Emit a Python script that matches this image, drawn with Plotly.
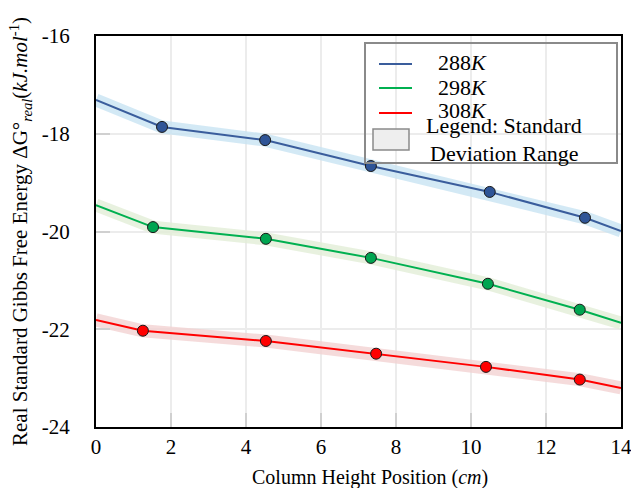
import plotly.graph_objects as go

# Data
x_288 = [0, 1.76, 4.51, 7.33, 10.5, 13.04, 14]
y_288 = [-17.31, -17.86, -18.13, -18.66, -19.19, -19.72, -19.99]
x_298 = [0, 1.52, 4.53, 7.33, 10.45, 12.9, 14]
y_298 = [-19.46, -19.91, -20.15, -20.54, -21.07, -21.60, -21.87]
x_308 = [0, 1.25, 4.53, 7.47, 10.4, 12.9, 14]
y_308 = [-21.81, -22.03, -22.24, -22.50, -22.77, -23.03, -23.20]

x_ticks = [0, 2, 4, 6, 8, 10, 12, 14]
y_ticks = [-24, -22, -20, -18, -16]
y_ticktext = ["-24", "-22", "-20", "-18", "-16"]

series = [
    ("288<i>K</i>", x_288, y_288, "#3a5d9c", "#2f5597", "rgba(200,228,242,0.8)"),
    ("298<i>K</i>", x_298, y_298, "#00b050", "#00a550", "rgba(226,238,215,0.8)"),
    ("308<i>K</i>", x_308, y_308, "#ff0000", "#ff0000", "rgba(243,210,210,0.8)"),
]

FONT = "Liberation Serif"

W, H = 631, 488
L, R, T, B = 96, 10, 36, 61
PX0, PY1 = 96, 36          # plot-area left/top in page pixels
PW, PH = 525, 391           # plot-area size


def px(x):
    return (x - PX0) / PW


def py(y):
    return (PY1 + PH - y) / PH


fig = go.Figure()

# standard deviation bands
for name, xs, ys, lc, mc, bc in series:
    fig.add_trace(go.Scatter(x=xs, y=ys, mode="lines", showlegend=False,
                             line=dict(color=bc, width=13), hoverinfo="skip"))

for name, xs, ys, lc, mc, bc in series:
    fig.add_trace(go.Scatter(x=xs, y=ys, mode="lines", name=name, showlegend=False,
                             line=dict(color=lc, width=2)))
    fig.add_trace(go.Scatter(x=xs[1:-1], y=ys[1:-1], mode="markers", showlegend=False,
                             marker=dict(color=mc, size=11, line=dict(color="#1a1a1a", width=1))))

# custom legend (box, samples and labels)
shapes = [
    dict(type="rect", xref="paper", yref="paper", x0=px(365), x1=px(617), y0=py(163), y1=py(43),
         line=dict(color="#8a8a8a", width=2), fillcolor="rgba(0,0,0,0)"),
    dict(type="rect", xref="paper", yref="paper", x0=px(373), x1=px(409), y0=py(150), y1=py(129),
         line=dict(color="#8a8a8a", width=1.5), fillcolor="#eeeeee"),
]
annotations = []
legend_rows = [(64, 63), (88, 88), (113, 111)]
for (name, xs, ys, lc, mc, bc), (ly, ty) in zip(series, legend_rows):
    shapes.append(dict(type="line", xref="paper", yref="paper", x0=px(379), x1=px(412),
                       y0=py(ly), y1=py(ly), line=dict(color=lc, width=2)))
    annotations.append(dict(xref="paper", yref="paper", x=px(436), y=py(ty), text=name,
                            showarrow=False, xanchor="left", yanchor="middle",
                            font=dict(family=FONT, size=22, color="black")))
annotations.append(dict(xref="paper", yref="paper", x=px(424), y=py(126), text="Legend: Standard",
                        showarrow=False, xanchor="left", yanchor="middle",
                        font=dict(family=FONT, size=22, color="black")))
annotations.append(dict(xref="paper", yref="paper", x=px(428), y=py(153), text="Deviation Range",
                        showarrow=False, xanchor="left", yanchor="middle",
                        font=dict(family=FONT, size=22, color="black")))
# x-axis title (offset slightly right of plot centre, as in the reference)
annotations.append(dict(xref="paper", yref="paper", x=px(370), y=py(477),
                        text="Column Height Position (<i>cm</i>)",
                        showarrow=False, xanchor="center", yanchor="middle",
                        font=dict(family=FONT, size=20, color="black")))

fig.update_layout(
    width=W, height=H,
    margin=dict(l=L, r=R, t=T, b=B),
    paper_bgcolor="white", plot_bgcolor="white",
    font=dict(family=FONT, size=20, color="black"),
    showlegend=False,
    shapes=shapes, annotations=annotations,
    xaxis=dict(range=[0, 14], tickvals=x_ticks, showgrid=True, gridcolor="#ececec", gridwidth=1.5,
               showline=True, linecolor="black", linewidth=2, mirror=True, zeroline=False,
               ticks="inside", ticklen=14, tickcolor="#d0d0d0", tickwidth=2,
               tickfont=dict(size=21), ticklabelstandoff=0, automargin=False,
               ticklabeloverflow="allow"),
    yaxis=dict(range=[-24, -16], tickvals=y_ticks, ticktext=y_ticktext, showgrid=True,
               gridcolor="#ececec", gridwidth=1.5,
               showline=True, linecolor="black", linewidth=2, mirror=True, zeroline=False,
               ticks="inside", ticklen=14, tickcolor="#d0d0d0", tickwidth=2,
               tickfont=dict(size=21), ticklabelstandoff=20, automargin=False,
               ticklabeloverflow="allow",
               title=dict(text="Real Standard Gibbs Free Energy ΔG°<sub><i>real</i></sub>(<i>kJ.mol</i><sup>-1</sup>)",
                          font=dict(size=21), standoff=8)),
)

fig.write_html("out.html", config={"displayModeBar": False},
               post_script="document.body.style.margin='0px';")
